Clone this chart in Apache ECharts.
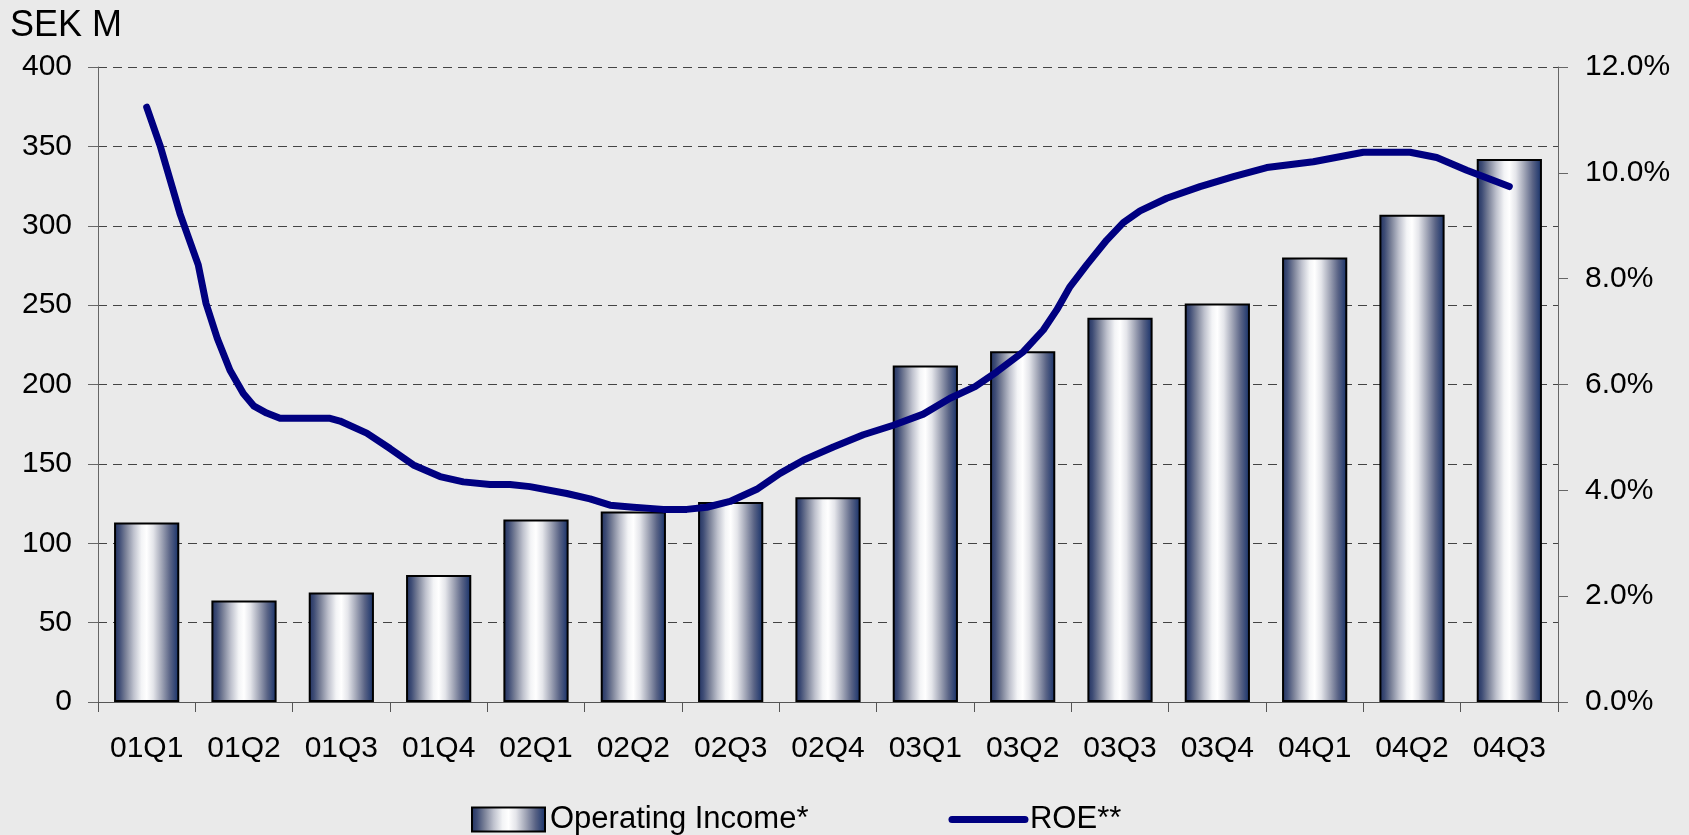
<!DOCTYPE html>
<html>
<head>
<meta charset="utf-8">
<script src="https://cdn.jsdelivr.net/npm/echarts@6/dist/echarts.min.js"></script>
<style>
html,body{margin:0;padding:0;background:#EAEAEA;}
#chart{width:1689px;height:835px;}
</style>
</head>
<body>
<div id="chart"></div>
<script>
// ---- data ----
const categories = ['01Q1','01Q2','01Q3','01Q4','02Q1','02Q2','02Q3','02Q4','03Q1','03Q2','03Q3','03Q4','04Q1','04Q2','04Q3'];
const operatingIncome = [113, 64, 69, 80, 115, 120, 126, 129, 212, 221, 242, 251, 280, 307, 342];
// ROE curve: time in quarters (0 = 01Q1) and ROE in %
const roeQuarter = [0, 0.137, 0.342, 0.530, 0.610, 0.726, 0.856, 0.993, 1.103, 1.233, 1.370, 1.884, 1.986, 2.261, 2.500, 2.740, 3.014, 3.253, 3.527, 3.733, 3.938, 4.316, 4.555, 4.761, 5.000, 5.308, 5.548, 5.754, 5.993, 6.268, 6.507, 6.747, 7.055, 7.363, 7.671, 7.979, 8.254, 8.511, 8.734, 9.007, 9.212, 9.350, 9.487, 9.658, 9.864, 10.034, 10.206, 10.480, 10.822, 11.165, 11.508, 11.986, 12.500, 12.980, 13.254, 13.562, 14.000];
const roeValue = [11.24, 10.52, 9.23, 8.26, 7.53, 6.87, 6.27, 5.83, 5.59, 5.46, 5.36, 5.36, 5.31, 5.08, 4.79, 4.48, 4.26, 4.16, 4.11, 4.11, 4.07, 3.94, 3.84, 3.72, 3.68, 3.64, 3.64, 3.68, 3.79, 4.02, 4.32, 4.57, 4.82, 5.05, 5.23, 5.44, 5.74, 5.96, 6.24, 6.62, 7.03, 7.41, 7.85, 8.26, 8.73, 9.06, 9.28, 9.52, 9.74, 9.93, 10.10, 10.21, 10.39, 10.39, 10.29, 10.05, 9.74];
const leftTicks = { min: 0, max: 400, interval: 50 };
const rightTicks = { min: 0, max: 12, interval: 2 };
const unitTitle = 'SEK M';
const seriesNames = ['Operating Income*', 'ROE**'];

// ---- chart ----
const FONT = '"Liberation Sans", Arial, sans-serif';
const chart = echarts.init(document.getElementById('chart'), null, { renderer: 'canvas' });

const barGradient = new echarts.graphic.LinearGradient(0, 0, 1, 0, [
  { offset: 0.00, color: '#1F3060' },
  { offset: 0.08, color: '#3E4C75' },
  { offset: 0.18, color: '#7A8198' },
  { offset: 0.30, color: '#BEC1CD' },
  { offset: 0.42, color: '#F3F4F6' },
  { offset: 0.50, color: '#FFFFFF' },
  { offset: 0.60, color: '#E4E5EA' },
  { offset: 0.72, color: '#A6AABA' },
  { offset: 0.86, color: '#596385' },
  { offset: 1.00, color: '#132E68' }
]);

const roeData = roeQuarter.map((q, i) => [q, roeValue[i]]);
const ROE_WIDTH = 7;

chart.setOption({
  backgroundColor: '#EAEAEA',
  animation: false,
  textStyle: { fontFamily: FONT },
  graphic: [{
    type: 'text', left: 10, top: 8,
    style: { text: unitTitle, fontSize: 36, fill: '#000', fontFamily: FONT }
  }],
  legend: {
    left: 471, top: 804, padding: 0,
    itemWidth: 73, itemHeight: 24, itemGap: 140,
    textStyle: { fontSize: 31, color: '#000', fontFamily: FONT },
    data: [
      { name: seriesNames[0], icon: 'rect' },
      { name: seriesNames[1], itemStyle: { opacity: 0 },
        lineStyle: { width: ROE_WIDTH, color: '#000080', cap: 'round' } }
    ]
  },
  grid: { left: 98, right: 131, top: 67, bottom: 133, containLabel: false },
  xAxis: [{
    type: 'category',
    data: categories,
    boundaryGap: true,
    axisLine: { onZero: false, lineStyle: { color: '#555', width: 1 } },
    axisTick: { show: true, interval: 0, length: 10, lineStyle: { color: '#555' } },
    axisLabel: { interval: 0, margin: 32, fontSize: 30, color: '#000', fontFamily: FONT },
    splitLine: { show: false }
  }, {
    type: 'value',
    min: -0.5, max: categories.length - 0.5,
    show: false,
    axisLine: { onZero: false }
  }],
  yAxis: [{
    type: 'value',
    position: 'left',
    min: leftTicks.min, max: leftTicks.max, interval: leftTicks.interval,
    axisLine: { show: true, onZero: false, lineStyle: { color: '#666', width: 1 } },
    axisTick: { show: true, length: 10, lineStyle: { color: '#666' } },
    axisLabel: { margin: 26, fontSize: 30, color: '#000', fontFamily: FONT },
    splitLine: { show: true, lineStyle: { color: '#444', width: 1, type: [9, 6] } }
  }, {
    type: 'value',
    position: 'right',
    min: rightTicks.min, max: rightTicks.max, interval: rightTicks.interval,
    axisLine: { show: true, onZero: false, lineStyle: { color: '#666', width: 1 } },
    axisTick: { show: true, length: 10, lineStyle: { color: '#666' } },
    axisLabel: { margin: 27, fontSize: 30, color: '#000', fontFamily: FONT,
      formatter: v => v.toFixed(1) + '%' },
    splitLine: { show: false }
  }],
  series: [{
    name: seriesNames[0],
    type: 'bar',
    xAxisIndex: 0, yAxisIndex: 0,
    data: operatingIncome,
    barWidth: '67%',
    itemStyle: { color: barGradient, borderColor: '#000', borderWidth: 2 },
    z: 2
  }, {
    name: seriesNames[1],
    type: 'line',
    xAxisIndex: 1, yAxisIndex: 1,
    data: roeData,
    symbol: 'none',
    showSymbol: false,
    smooth: false,
    lineStyle: { color: '#000080', width: ROE_WIDTH, cap: 'round', join: 'round' },
    itemStyle: { color: '#000080' },
    z: 3
  }]
});
</script>
</body>
</html>
